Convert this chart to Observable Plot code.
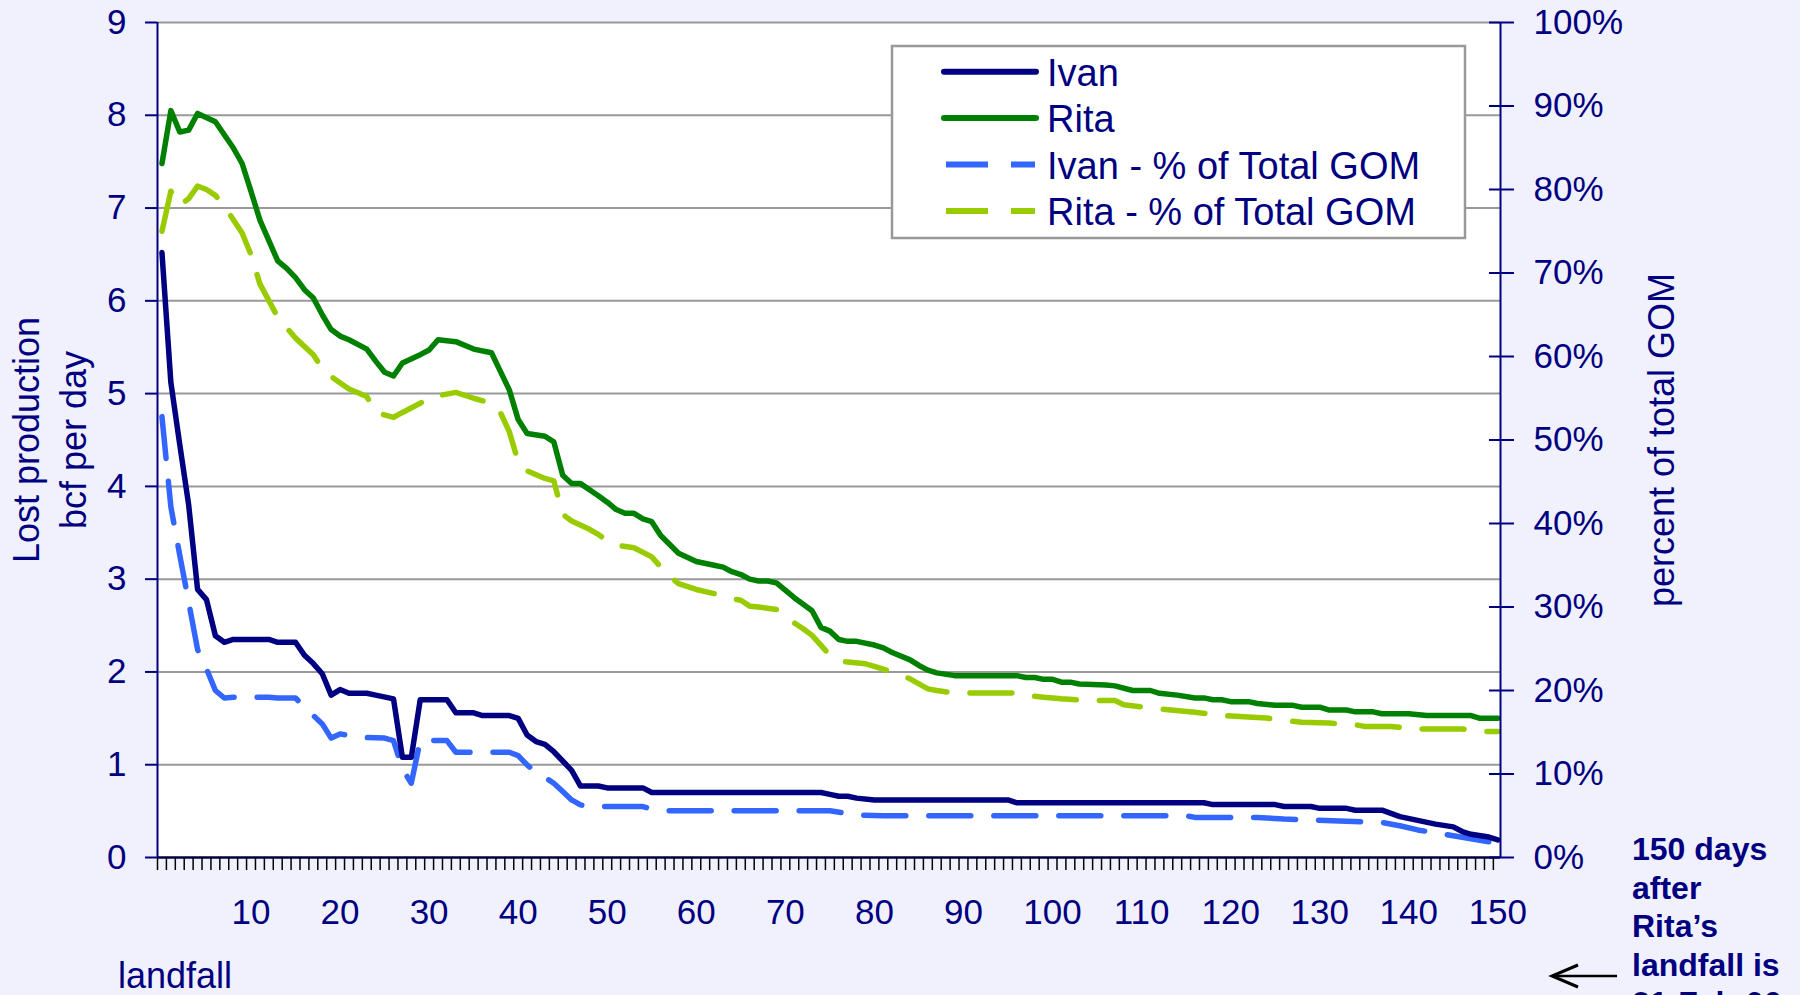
<!DOCTYPE html>
<html><head><meta charset="utf-8">
<script src="https://cdn.jsdelivr.net/npm/d3@7"></script>
<script src="https://cdn.jsdelivr.net/npm/@observablehq/plot@0.6"></script>
<style>
html,body{margin:0;padding:0;background:#F1F1FD;overflow:hidden;}
#wrap{position:relative;width:1800px;height:995px;}
#wrap svg{display:block;}
#overlay{position:absolute;left:0;top:0;}
</style></head>
<body><div id="wrap"></div>
<script>
// ---- data (days after landfall) ----
const ivanDays = [0,1,2,3,4,5,6,7,8,12,13,15,16,17,18,19,20,21,23,24,26,27,28,29,32,33,35,36,39,40,41,42,43,44,45,46,47,49,50,54,55,74,75,76,77,78,80,95,96,117,118,125,126,129,130,133,134,137,139,141,143,145,146,147,149,150];
const ivanBcf = [6.52,5.12,4.45,3.80,2.89,2.78,2.39,2.32,2.35,2.35,2.32,2.32,2.18,2.09,1.98,1.75,1.81,1.77,1.77,1.75,1.71,1.08,1.08,1.70,1.70,1.56,1.56,1.53,1.53,1.50,1.32,1.25,1.22,1.14,1.04,0.94,0.77,0.77,0.75,0.75,0.70,0.70,0.68,0.66,0.66,0.64,0.62,0.62,0.59,0.59,0.57,0.57,0.55,0.55,0.53,0.53,0.51,0.51,0.44,0.40,0.36,0.33,0.28,0.25,0.22,0.19];

const ritaDays = [0,1,2,3,4,6,7,8,9,10,11,13,14,15,16,17,18,19,20,21,23,24,25,26,27,29,30,31,33,35,37,38,39,40,41,43,44,45,46,47,49,50,51,52,53,54,55,56,58,60,62,63,64,65,66,67,68,69,71,73,74,75,76,77,78,80,81,82,84,85,86,87,89,96,97,98,99,100,101,102,103,106,107,109,111,112,114,116,117,118,119,120,122,123,125,127,128,130,131,133,134,136,137,140,142,147,148,150];
const ritaBcf = [7.48,8.05,7.82,7.84,8.02,7.93,7.79,7.65,7.48,7.18,6.87,6.43,6.35,6.25,6.12,6.03,5.85,5.69,5.62,5.58,5.48,5.35,5.23,5.19,5.33,5.42,5.47,5.58,5.56,5.48,5.44,5.24,5.04,4.72,4.57,4.54,4.48,4.12,4.03,4.03,3.90,3.83,3.75,3.71,3.71,3.65,3.62,3.47,3.28,3.19,3.15,3.13,3.08,3.05,3.00,2.98,2.98,2.96,2.80,2.66,2.48,2.44,2.35,2.33,2.33,2.29,2.26,2.21,2.13,2.07,2.02,1.99,1.96,1.96,1.94,1.94,1.92,1.92,1.89,1.89,1.87,1.86,1.85,1.80,1.80,1.77,1.75,1.72,1.72,1.70,1.70,1.68,1.68,1.66,1.64,1.64,1.62,1.62,1.59,1.59,1.57,1.57,1.55,1.55,1.53,1.53,1.50,1.50];

const ivanPctDays = [0,1,2,3,4,5,6,7,8,12,13,15,16,18,19,20,22,25,26,27,28,29,32,33,39,40,41,42,43,44,45,46,47,48,54,55,56,75,78,81,115,116,123,126,137,139,141,145,150];
const ivanPct = [52.8,42.0,36.2,30.6,24.9,22.6,20.0,19.1,19.2,19.2,19.1,19.1,18.0,16.0,14.3,14.8,14.4,14.3,14.0,10.6,8.9,14.0,14.0,12.6,12.6,12.2,11.1,10.2,9.6,8.9,7.9,6.9,6.3,6.1,6.1,5.8,5.6,5.6,5.1,5.0,5.0,4.8,4.8,4.6,4.2,3.8,3.3,2.6,1.7];

const ritaPctDays = [0,1,2,3,4,5,6,7,8,9,10,11,13,15,17,18,19,21,23,24,26,27,29,30,33,35,37,38,39,40,41,43,44,45,46,48,49,50,51,53,55,56,57,58,60,62,64,65,66,67,69,70,72,73,75,76,77,79,80,82,84,85,86,87,89,96,97,99,101,104,107,108,111,113,116,119,121,124,126,128,131,134,135,138,141,146,148,150];
const ritaPct = [75.0,79.8,78.1,78.9,80.4,80.0,79.3,78.0,76.4,74.8,72.2,68.7,64.7,62.2,60.2,58.6,57.6,56.1,55.2,53.3,52.7,53.3,54.4,55.1,55.7,55.0,54.4,53.3,51.0,47.4,46.3,45.4,45.1,41.1,40.3,39.3,38.7,37.9,37.4,37.1,36.0,34.8,33.7,32.8,32.1,31.6,31.0,30.8,30.1,30.0,29.7,28.8,27.4,26.6,24.2,23.6,23.4,23.2,22.9,22.2,21.4,20.8,20.2,20.0,19.7,19.7,19.4,19.2,19.0,18.8,18.8,18.3,17.9,17.7,17.4,17.0,16.9,16.7,16.4,16.2,16.1,15.9,15.7,15.7,15.4,15.4,15.1,15.1];

const xTickLabels = [10,20,30,40,50,60,70,80,90,100,110,120,130,140,150];
const yTicks = [0,1,2,3,4,5,6,7,8,9];
const pctTicks = [0,10,20,30,40,50,60,70,80,90,100];
const seriesNames = ["Ivan","Rita","Ivan - % of Total GOM","Rita - % of Total GOM"];
const leftTitle = "Lost production\nbcf per day";
const rightTitle = "percent of total GOM";
const noteLines = ["150 days","after","Rita\u2019s","landfall is","21-Feb-06"];
const bottomNote = "landfall";

// ---- styling ----
const NAVY = "#000080", GREEN = "#008000", BLUE = "#3366FF", LIME = "#99CC00";
const FONT = "'Liberation Sans', Arial, Helvetica, sans-serif";
const DASH = "42,23";
const LW = 5.5;

const pctToBcf = p => p * 9 / 100;
const rows = (days, vals) => days.map((d, i) => ({day: d, v: vals[i]}));
const ivan = rows(ivanDays, ivanBcf);
const rita = rows(ritaDays, ritaBcf);
const ivanP = rows(ivanPctDays, ivanPct);
const ritaP = rows(ritaPctDays, ritaPct);
const minorTicks = d3.range(0, 151).map(k => k - 0.5);
const xDomain = [-0.5, 150.3];

const chart = Plot.plot({
  width: 1800, height: 995,
  marginLeft: 157, marginRight: 300, marginTop: 22, marginBottom: 138,
  style: {background: "transparent", color: NAVY, fontFamily: FONT},
  x: {domain: xDomain},
  y: {domain: [0, 9]},
  marks: [
    Plot.frame({fill: "white", stroke: "none"}),
    Plot.gridY(yTicks.filter(v => v > 0), {stroke: "#999999", strokeOpacity: 1, strokeWidth: 2}),
    Plot.line(ritaP, {x: "day", y: d => pctToBcf(d.v), stroke: LIME, strokeWidth: LW, strokeDasharray: DASH, strokeLinejoin: "round"}),
    Plot.line(ivanP, {x: "day", y: d => pctToBcf(d.v), stroke: BLUE, strokeWidth: LW, strokeDasharray: DASH, strokeLinejoin: "round"}),
    Plot.line(rita, {x: "day", y: "v", stroke: GREEN, strokeWidth: LW, strokeLinejoin: "round", strokeLinecap: "round"}),
    Plot.line(ivan, {x: "day", y: "v", stroke: NAVY, strokeWidth: LW, strokeLinejoin: "round", strokeLinecap: "round"}),
    Plot.ruleY([0], {stroke: "#000040", strokeWidth: 2.5}),
    Plot.ruleX([xDomain[0]], {stroke: NAVY, strokeWidth: 2}),
    Plot.ruleX([xDomain[1]], {stroke: NAVY, strokeWidth: 2}),
    Plot.axisY(yTicks, {anchor: "left", tickSize: 12, tickPadding: 19, fontSize: 35, stroke: NAVY, strokeWidth: 2, label: null,
      tickFormat: d => String(d)}),
    Plot.axisY(pctTicks.map(pctToBcf), {anchor: "right", tickSize: 13, tickPadding: 20, stroke: "none", fontSize: 35, label: null,
      tickFormat: v => Math.round(v * 100 / 9) + "%"}),
    Plot.axisY(pctTicks.map(pctToBcf), {anchor: "right", tickSize: 25, dx: -12, fill: "none", stroke: NAVY, strokeWidth: 2, label: null}),
    Plot.axisX(minorTicks, {anchor: "bottom", tickSize: 13, fill: "none", stroke: "#000000", strokeWidth: 1.5, label: null}),
    Plot.axisX(xTickLabels, {anchor: "bottom", tickSize: 0, tickPadding: 42, fontSize: 35, label: null, tickFormat: d => String(d)}),
    Plot.text([leftTitle], {frameAnchor: "left", dx: -110, rotate: -90, textAnchor: "middle", lineAnchor: "middle",
      fontSize: 36, lineHeight: 1.3, fill: NAVY}),
    Plot.text([rightTitle], {frameAnchor: "right", dx: 162, rotate: -90, textAnchor: "middle", lineAnchor: "middle",
      fontSize: 36, fill: NAVY})
  ]
});
document.getElementById("wrap").appendChild(chart);

// ---- legend and annotations overlay ----
const ov = d3.select("#wrap").append("svg").attr("id", "overlay")
  .attr("width", 1800).attr("height", 995)
  .style("font-family", FONT);

const lg = ov.append("g");
lg.append("rect").attr("x", 892).attr("y", 46).attr("width", 573).attr("height", 192)
  .attr("fill", "white").attr("stroke", "#999999").attr("stroke-width", 2.5);
const legendStyles = [
  {c: NAVY, dash: null}, {c: GREEN, dash: null}, {c: BLUE, dash: DASH}, {c: LIME, dash: DASH}
];
seriesNames.forEach((name, i) => {
  const base = 86 + i * 46.4;
  const s = legendStyles[i];
  lg.append("line")
    .attr("x1", s.dash ? 946 : 944).attr("x2", s.dash ? 1035 : 1036)
    .attr("y1", base - 14.3).attr("y2", base - 14.3)
    .attr("stroke", s.c).attr("stroke-width", 6)
    .attr("stroke-linecap", s.dash ? "butt" : "round")
    .attr("stroke-dasharray", s.dash);
  lg.append("text").attr("x", 1047).attr("y", base)
    .attr("fill", NAVY).attr("font-size", 38).text(name);
});

ov.append("text").attr("x", 118).attr("y", 988).attr("fill", NAVY)
  .attr("font-size", 36).text(bottomNote);

noteLines.forEach((t, i) => {
  ov.append("text").attr("x", 1632).attr("y", 860 + i * 38.5)
    .attr("fill", NAVY).attr("font-size", 32).attr("font-weight", "bold").text(t);
});

ov.append("line").attr("x1", 1553).attr("x2", 1617).attr("y1", 976).attr("y2", 976)
  .attr("stroke", "#000").attr("stroke-width", 2.5);
ov.append("path").attr("d", "M1578,965 L1552,976 L1578,987")
  .attr("fill", "none").attr("stroke", "#000").attr("stroke-width", 3);
</script>
</body></html>
